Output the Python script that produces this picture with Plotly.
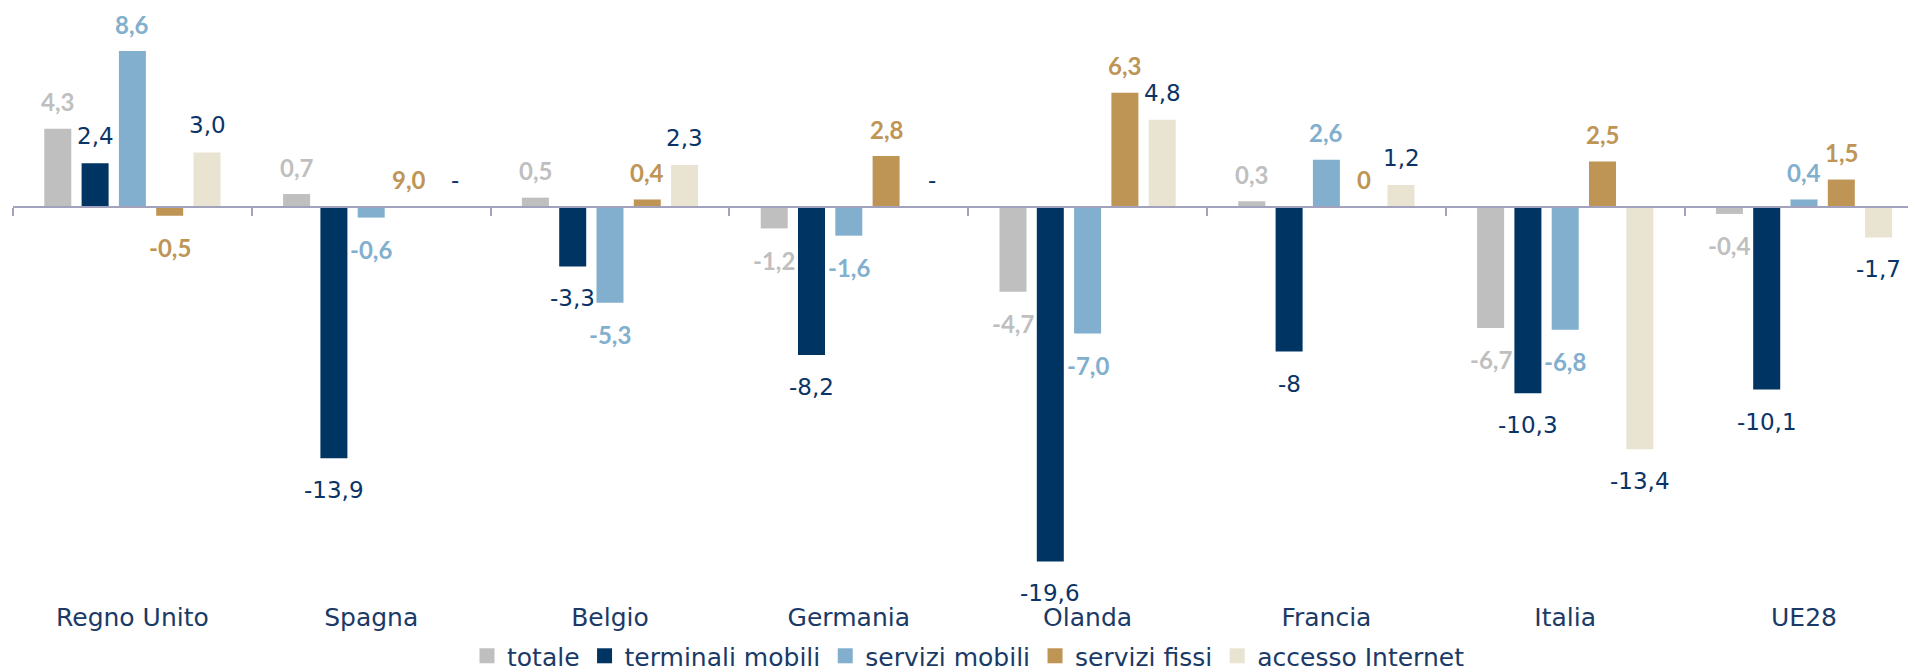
import plotly.graph_objects as go

categories = ["Regno Unito", "Spagna", "Belgio", "Germania", "Olanda", "Francia", "Italia", "UE28"]
series_names = ["totale", "terminali mobili", "servizi mobili", "servizi fissi", "accesso Internet"]

totale = [4.3, 0.7, 0.5, -1.2, -4.7, 0.3, -6.7, -0.4]
terminali_mobili = [2.4, -13.9, -3.3, -8.2, -19.6, -8.0, -10.3, -10.1]
servizi_mobili = [8.6, -0.6, -5.3, -1.6, -7.0, 2.6, -6.8, 0.4]
servizi_fissi = [-0.5, None, 0.4, 2.8, 6.3, 0.0, 2.5, 1.5]
accesso_internet = [3.0, None, 2.3, None, 4.8, 1.2, -13.4, -1.7]

totale_lbl = ["4,3", "0,7", "0,5", "-1,2", "-4,7", "0,3", "-6,7", "-0,4"]
terminali_lbl = ["2,4", "-13,9", "-3,3", "-8,2", "-19,6", "-8", "-10,3", "-10,1"]
mobili_lbl = ["8,6", "-0,6", "-5,3", "-1,6", "-7,0", "2,6", "-6,8", "0,4"]
fissi_lbl = ["-0,5", "9,0", "0,4", "2,8", "6,3", "0", "2,5", "1,5"]
accesso_lbl = ["3,0", "-", "2,3", "-", "4,8", "1,2", "-13,4", "-1,7"]

values = [totale, terminali_mobili, servizi_mobili, servizi_fissi, accesso_internet]
labels = [totale_lbl, terminali_lbl, mobili_lbl, fissi_lbl, accesso_lbl]

bar_colors = ["#BFBFBF", "#003462", "#81AFCD", "#BE9554", "#E9E3D2"]
label_colors = ["#BFBFBF", "#0B3466", "#81AFCD", "#BE9554", "#0B3466"]
label_bold = [True, False, True, True, False]

FONT = "DejaVu Sans"
BOLD_FONT = "Lato"
NAVY_TXT = "#1B3A66"
AXIS_COL = "#A2A2BC"

# the page body adds an 8px offset; margins compensate for it
W, H = 1916, 672
ML, MR, MT, MB = 5, 0, 12, 80
X_RANGE = [-0.5, 7.5025]
Y_RANGE = [-21.729, 10.315]
BARGAP = 0.219
BARGROUPGAP = 0.276

fig = go.Figure()
for name, vals, col in zip(series_names, values, bar_colors):
    fig.add_trace(go.Bar(
        x=categories, y=vals, name=name, marker=dict(color=col, line=dict(width=0)),
        hoverinfo="skip", showlegend=False,
    ))

# legend entries with larger square swatches
for name, col in zip(series_names, bar_colors):
    fig.add_trace(go.Scatter(
        x=[None], y=[None], name=name, mode="markers",
        marker=dict(symbol="square", size=15, color=col), showlegend=True,
    ))

# helper trace for the axis line with ticks at the zero level
fig.add_trace(go.Scatter(x=categories, y=[0] * len(categories), xaxis="x2", yaxis="y",
                         mode="markers", marker=dict(opacity=0), showlegend=False,
                         hoverinfo="skip"))

plot_w = W - ML - MR
cat_px = plot_w / (X_RANGE[1] - X_RANGE[0])
slot_px = cat_px * (1 - BARGAP) / len(series_names)

annotations = []
for s, (vals, lbls) in enumerate(zip(values, labels)):
    for c, (cat, v, t) in enumerate(zip(categories, vals, lbls)):
        yv = 0 if v is None else v
        if label_bold[s]:
            txt = f"<b>{t}</b>"
            fnt = dict(family=BOLD_FONT, size=24, color=label_colors[s])
        else:
            txt = t
            fnt = dict(family=FONT, size=23, color=label_colors[s])
        annotations.append(dict(
            x=cat, y=yv, xref="x", yref="y", text=txt, showarrow=False,
            xanchor="center", yanchor="middle",
            xshift=(s - 2) * slot_px + (9 if t == "-" else 0),
            yshift=27 if yv >= 0 else -32,
            font=fnt,
        ))

zero_paper = (0 - Y_RANGE[0]) / (Y_RANGE[1] - Y_RANGE[0])

fig.update_layout(
    width=W, height=H,
    margin=dict(l=ML, r=MR, t=MT, b=MB, autoexpand=False),
    paper_bgcolor="white", plot_bgcolor="white",
    barmode="group", bargap=BARGAP, bargroupgap=BARGROUPGAP,
    font=dict(family=FONT, color=NAVY_TXT, size=23),
    showlegend=True,
    legend=dict(orientation="h", x=0.5, xanchor="center", y=-0.0966, yanchor="middle",
                font=dict(family=FONT, size=25, color=NAVY_TXT), traceorder="normal",
                itemclick=False, itemsizing="trace"),
    xaxis=dict(type="category", categoryarray=categories, range=X_RANGE,
               showline=False, showgrid=False, zeroline=False, ticks="",
               tickfont=dict(family=FONT, size=25, color=NAVY_TXT)),
    xaxis2=dict(type="category", categoryarray=categories, range=X_RANGE,
                overlaying="x", anchor="free", position=zero_paper, side="bottom",
                showline=True, linecolor=AXIS_COL, linewidth=2,
                ticks="outside", tickson="boundaries", ticklen=8, tickwidth=2,
                tickcolor=AXIS_COL, showticklabels=False, showgrid=False, zeroline=False),
    yaxis=dict(range=Y_RANGE, visible=False, showgrid=False, zeroline=False),
    annotations=annotations,
)

fig.write_html("out.html")
